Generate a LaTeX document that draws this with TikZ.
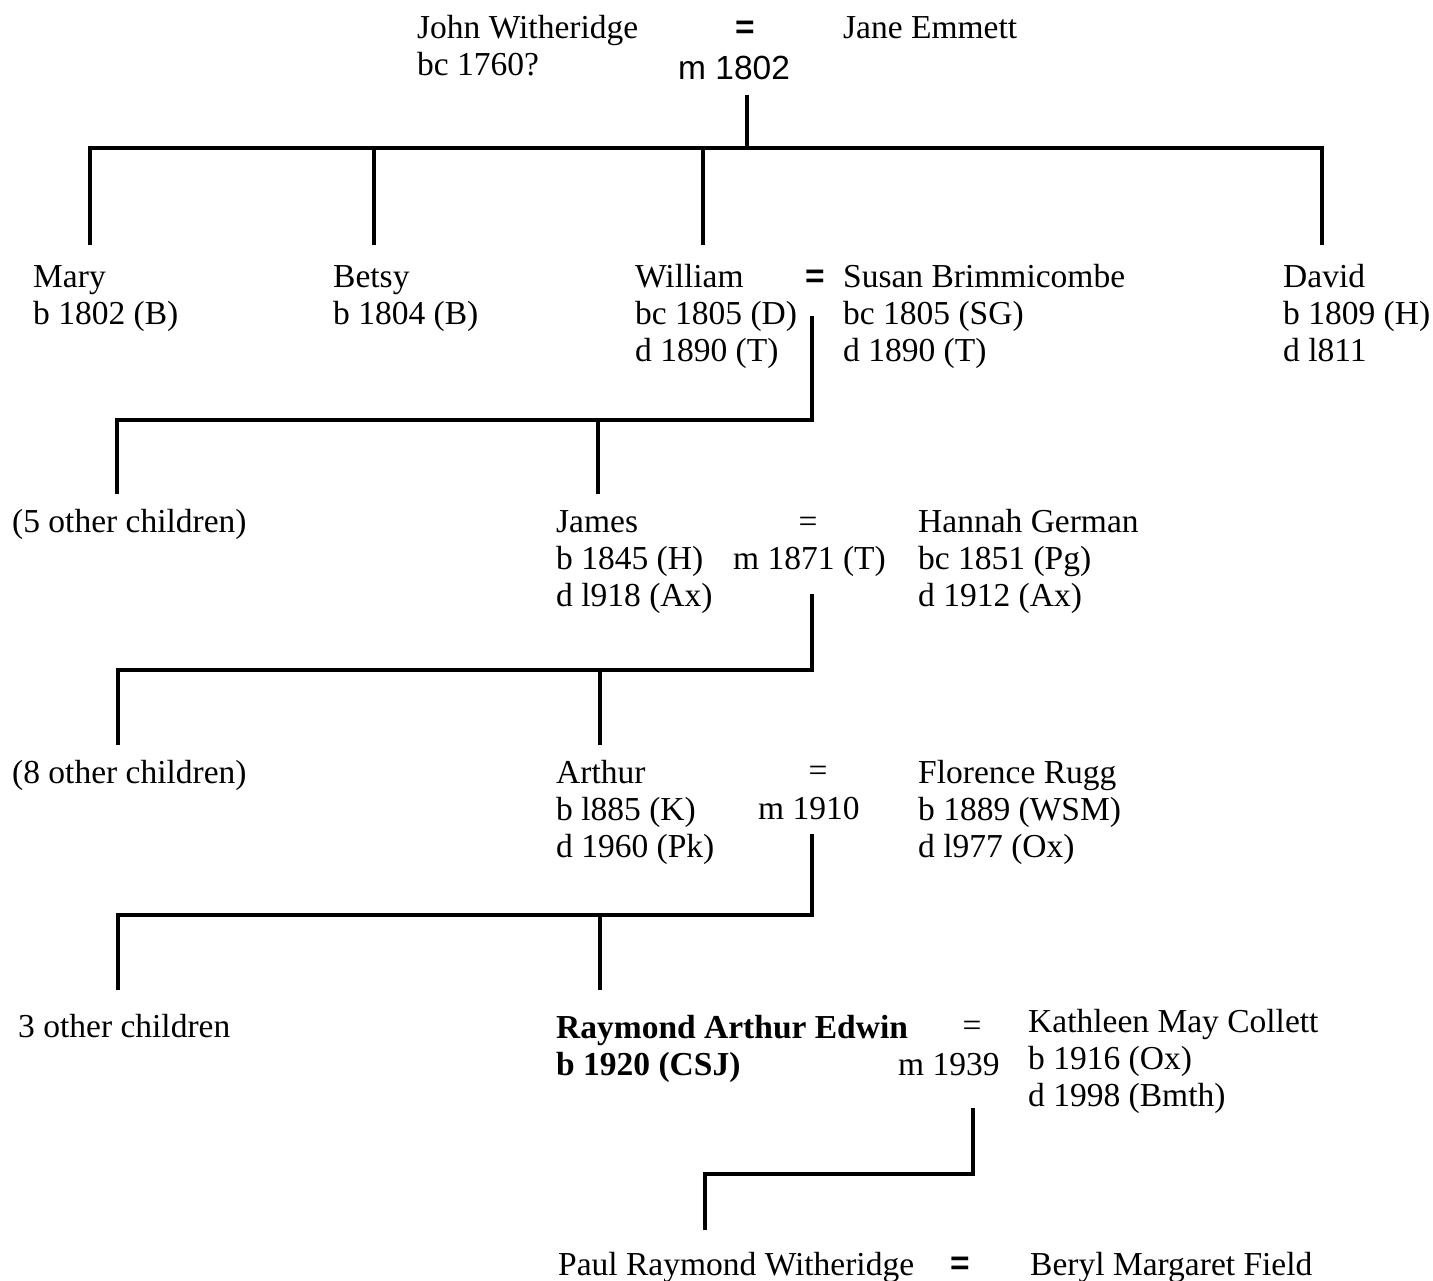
\documentclass[tikz,border=0pt]{standalone}
\usepackage{fontspec}
\setmainfont{Liberation Serif}
\newfontfamily\arialf{Liberation Sans}
\begin{document}
\begin{tikzpicture}[x=1pt,y=-1pt,
  t/.style={anchor=base west, inner sep=0pt, font=\fontsize{33.5}{37}\selectfont},
  tb/.style={t, font=\fontsize{33.5}{37}\selectfont\bfseries},
  ts/.style={anchor=base west, inner sep=0pt, font=\arialf\fontsize{33.5}{37}\selectfont},
  eqs/.style={anchor=center, inner sep=0pt, font=\arialf\bfseries\fontsize{33.5}{37}\selectfont},
  tree/.style={line width=4.5pt, line cap=rect, line join=miter}]
\useasboundingbox (0,0) rectangle (1433,1281);

% ---------- generation 1
\node[t] (john1) at (417,39) {John Witheridge};
\node[t] (john2) at (417,76) {bc 1760?};
\node[eqs] (eq1) at (745,30) {=};
\node[ts] (m1) at (678,80) {m 1802};
\node[t] (jane1) at (843,39) {Jane Emmett};

\coordinate (c1top) at (747,97);
\coordinate (c1bar) at (747,148);
\coordinate (b1l) at (90,148);
\coordinate (b1r) at (1322,148);
\coordinate (d1a) at (90,243);
\coordinate (d1b) at (374,243);
\coordinate (d1c) at (703,243);
\coordinate (d1d) at (1322,243);
\draw[tree] (c1top) -- (c1bar);
\draw[tree] (b1l) -- (b1r);
\draw[tree] (b1l) -- (d1a);
\draw[tree] (d1b |- b1l) -- (d1b);
\draw[tree] (d1c |- b1l) -- (d1c);
\draw[tree] (b1r) -- (d1d);

% ---------- generation 2
\node[t] (mary1) at (33,288) {Mary};
\node[t] (mary2) at (33,325) {b 1802 (B)};
\node[t] (betsy1) at (333,288) {Betsy};
\node[t] (betsy2) at (333,325) {b 1804 (B)};
\node[t] (will1) at (635,288) {William};
\node[t] (will2) at (635,325) {bc 1805 (D)};
\node[t] (will3) at (635,362) {d 1890 (T)};
\node[eqs] (eq2) at (815,279) {=};
\node[t] (susan1) at (843,288) {Susan Brimmicombe};
\node[t] (susan2) at (843,325) {bc 1805 (SG)};
\node[t] (susan3) at (843,362) {d 1890 (T)};
\node[t] (david1) at (1283,288) {David};
\node[t] (david2) at (1283,325) {b 1809 (H)};
\node[t] (david3) at (1283,362) {d l811};

\coordinate (c2top) at (812,318);
\coordinate (c2bar) at (812,420);
\coordinate (b2l) at (117,420);
\coordinate (d2a) at (117,492);
\coordinate (d2b) at (598,492);
\draw[tree] (c2top) -- (c2bar) -- (b2l) -- (d2a);
\draw[tree] (d2b |- b2l) -- (d2b);

% ---------- generation 3
\node[t] (other5) at (12,532) {(5 other children)};
\node[t] (james1) at (556,532) {James};
\node[t] (james2) at (556,569) {b 1845 (H)};
\node[t] (james3) at (556,606) {d l918 (Ax)};
\node[t, anchor=base] (eq3) at (808,532) {=};
\node[t] (m3) at (733,569) {m 1871 (T)};
\node[t] (hannah1) at (918,532) {Hannah German};
\node[t] (hannah2) at (918,569) {bc 1851 (Pg)};
\node[t] (hannah3) at (918,606) {d 1912 (Ax)};

\coordinate (c3top) at (812,596);
\coordinate (c3bar) at (812,670);
\coordinate (b3l) at (118,670);
\coordinate (d3a) at (118,743);
\coordinate (d3b) at (600,743);
\draw[tree] (c3top) -- (c3bar) -- (b3l) -- (d3a);
\draw[tree] (d3b |- b3l) -- (d3b);

% ---------- generation 4
\node[t] (other8) at (12,783) {(8 other children)};
\node[t] (arthur1) at (556,783) {Arthur};
\node[t] (arthur2) at (556,820) {b l885 (K)};
\node[t] (arthur3) at (556,857) {d 1960 (Pk)};
\node[t, anchor=base] (eq4) at (818,781) {=};
\node[t] (m4) at (758,819) {m 1910};
\node[t] (flo1) at (918,783) {Florence Rugg};
\node[t] (flo2) at (918,820) {b 1889 (WSM)};
\node[t] (flo3) at (918,857) {d l977 (Ox)};

\coordinate (c4top) at (812,836);
\coordinate (c4bar) at (812,915);
\coordinate (b4l) at (118,915);
\coordinate (d4a) at (118,988);
\coordinate (d4b) at (600,988);
\draw[tree] (c4top) -- (c4bar) -- (b4l) -- (d4a);
\draw[tree] (d4b |- b4l) -- (d4b);

% ---------- generation 5
\node[t] (other3) at (18,1037) {3 other children};
\node[tb] (ray1) at (556,1038) {Raymond Arthur Edwin};
\node[tb] (ray2) at (556,1075) {b 1920 (CSJ)};
\node[t, anchor=base] (eq5) at (972,1036) {=};
\node[t] (m5) at (898,1075) {m 1939};
\node[t] (kath1) at (1028,1032) {Kathleen May Collett};
\node[t] (kath2) at (1028,1069) {b 1916 (Ox)};
\node[t] (kath3) at (1028,1106) {d 1998 (Bmth)};

\coordinate (c5top) at (973,1110);
\coordinate (c5bar) at (973,1174);
\coordinate (b5l) at (705,1174);
\coordinate (d5a) at (705,1228);
\draw[tree] (c5top) -- (c5bar) -- (b5l) -- (d5a);

% ---------- generation 6
\node[t] (paul1) at (558,1275) {Paul Raymond Witheridge};
\node[eqs] (eq6) at (960,1266) {=};
\node[t] (beryl1) at (1030,1275) {Beryl Margaret Field};
\end{tikzpicture}
\end{document}
